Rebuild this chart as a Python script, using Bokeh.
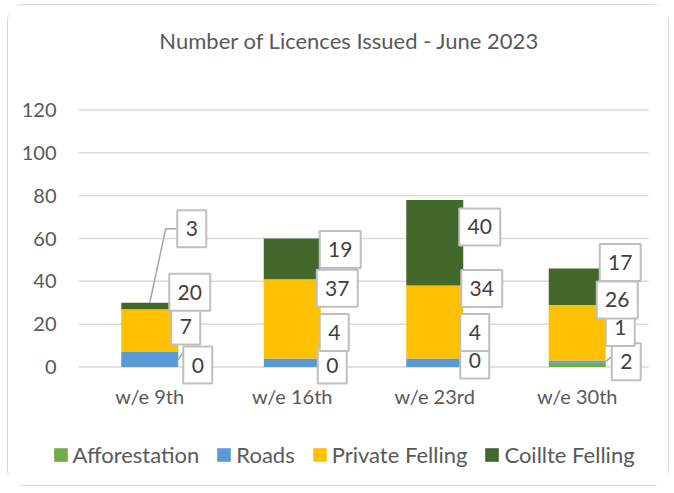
from bokeh.plotting import figure
from bokeh.models import FixedTicker, Legend, LegendItem, Range1d, Label
from bokeh.core.properties import value
from bokeh.embed import file_html
from bokeh.resources import INLINE

# ---- data ----
categories = ["w/e 9th", "w/e 16th", "w/e 23rd", "w/e 30th"]
series_names = ["Afforestation", "Roads", "Private Felling", "Coillte Felling"]
afforestation = [0, 0, 0, 2]
roads = [7, 4, 4, 1]
private_felling = [20, 37, 34, 26]
coillte_felling = [3, 19, 40, 17]
y_ticks = [0, 20, 40, 60, 80, 100, 120]
title_text = "Number of Licences Issued - June 2023"

# ---- styles / layout ----
colors = ["#70ad47", "#5b9bd5", "#ffc000", "#43682b"]
FONT = "Lato"
TXT = "#595959"
# data-label callout offsets in pixels (per series, per category):
# dx = right of bar centre, dy = upward from segment top
label_dx = [[48, 40, 40, 49], [36, 42, 40, 43], [40, 45, 47, 40], [42, 48, 45, 43]]
label_dy = [[2, 2, 7, 1], [26, 26, 26, 33], [17, -9, -3, 5], [74, -11, -27, 6]]

W, H = 662, 482                 # canvas size
PA_L, PA_R = 70, 640            # plot area left/right (canvas px)
PA_T, PA_B = 104.5, 361.5       # pixel rows of the top tick and of zero
CAT_LO, CAT_HI = -0.5, len(categories) - 0.5
Y_TOP = y_ticks[-1]
pxx = (PA_R - PA_L) / (CAT_HI - CAT_LO)
pxy = (PA_B - PA_T) / Y_TOP
XMIN = CAT_LO - PA_L / pxx
XMAX = CAT_HI + (W - PA_R) / pxx
YMAX = Y_TOP + PA_T / pxy
YMIN = -(H - PA_B) / pxy

p = figure(width=W, height=H, output_backend="svg", toolbar_location=None, title=None,
           x_range=Range1d(XMIN, XMAX), y_range=Range1d(YMIN, YMAX),
           min_border=0)
p.styles = {"border": "1.5px solid #d9d9d9", "border-radius": "16px",
            "margin-left": "7px", "margin-top": "4px"}
p.outline_line_color = None
p.background_fill_color = "white"
p.border_fill_color = "white"

# gridlines at the ticks, spanning the plot area only
p.segment(x0=[CAT_LO] * len(y_ticks), x1=[CAT_HI] * len(y_ticks), y0=y_ticks, y1=y_ticks,
          line_color="#d9d9d9", line_width=1.5)

xs = list(range(len(categories)))
values = [afforestation, roads, private_felling, coillte_felling]
bottoms = [0] * len(categories)
renderers = []
tops_all = []
for s, vals in enumerate(values):
    tops = [b + v for b, v in zip(bottoms, vals)]
    r = p.vbar(x=xs, bottom=bottoms, top=tops, width=0.4, fill_color=colors[s], line_color=None)
    renderers.append(r)
    tops_all.append(tops)
    bottoms = tops

def lab_pos(s, c):
    x = xs[c] + label_dx[s][c] / pxx
    y = tops_all[s][c] + label_dy[s][c] / pxy
    return x, y

# leader lines
lx, ly = lab_pos(3, 0)
p.line(x=[xs[0], lx - 26 / pxx, lx - 14 / pxx], y=[tops_all[3][0], ly, ly], line_color="#a6a6a6", line_width=1.5)
lx, ly = lab_pos(0, 0)
p.line(x=[xs[0] + 0.2, lx - 11 / pxx], y=[roads[0] / 2, ly + 18 / pxy], line_color="#a6a6a6", line_width=1.5)
lx, ly = lab_pos(0, 3)
p.line(x=[xs[3] + 0.2, lx - 9 / pxx], y=[tops_all[0][3] + roads[3] / 2, ly + 10 / pxy], line_color="#a6a6a6", line_width=1.5)

for s, vals in enumerate(values):
    lxs, lys, ws, txt = [], [], [], []
    for c in range(len(categories)):
        x, y = lab_pos(s, c)
        lxs.append(x)
        lys.append(y)
        ws.append(29 if vals[c] < 10 else 41)
        txt.append(str(vals[c]))
    p.rect(x=lxs, y=lys, width=ws, height=37, width_units="screen", height_units="screen",
           fill_color="white", line_color="#bfbfbf", line_width=2)
    p.text(x=lxs, y=lys, text=txt, text_align="center", text_baseline="middle",
           text_font=value(FONT), text_font_size="21px", text_color="#404040")

# axes (placed inside the full-canvas frame)
p.xaxis.ticker = FixedTicker(ticks=xs)
p.xaxis.major_label_overrides = {i: c for i, c in enumerate(categories)}
p.xaxis.fixed_location = 0
p.yaxis.ticker = FixedTicker(ticks=y_ticks)
p.yaxis.fixed_location = CAT_LO
for ax in (p.xaxis, p.yaxis):
    ax.axis_line_color = None
    ax.major_tick_line_color = None
    ax.minor_tick_line_color = None
    ax.major_tick_out = 0
    ax.major_tick_in = 0
    ax.major_label_text_font = FONT
    ax.major_label_text_font_size = "20px"
    ax.major_label_text_color = TXT
p.yaxis.major_label_standoff = 22
p.xaxis.major_label_standoff = 17
p.xgrid.visible = False
p.ygrid.visible = False

# title
TITLE_X, TITLE_Y = 341, 34.5   # canvas px
p.add_layout(Label(x=XMIN + TITLE_X / pxx, y=YMAX - TITLE_Y / pxy, text=title_text,
                   text_align="center", text_baseline="middle", text_font=FONT,
                   text_font_size="22px", text_color=TXT))

legend = Legend(items=[LegendItem(label=n, renderers=[r]) for n, r in zip(series_names, renderers)],
                orientation="horizontal", location=(43.5, 19))
legend.label_text_font = FONT
legend.label_text_font_size = "22px"
legend.label_text_color = TXT
legend.glyph_width = 17
legend.glyph_height = 17
legend.label_standoff = 4
legend.spacing = 16
legend.border_line_color = None
legend.background_fill_alpha = 0
legend.margin = 0
legend.padding = 0
legend.label_height = 23
p.add_layout(legend, "center")

open("out.html", "w").write(file_html(p, INLINE))
